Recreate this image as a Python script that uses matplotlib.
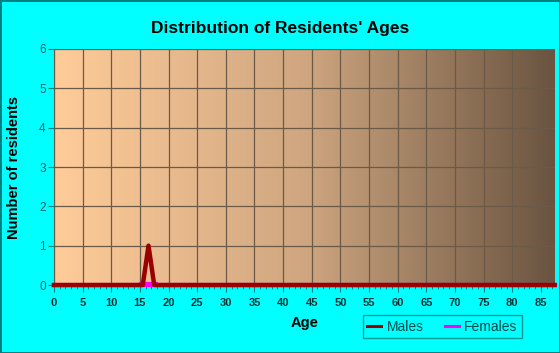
import numpy as np
import matplotlib
matplotlib.use("Agg")
import matplotlib.pyplot as plt
from matplotlib.colors import LinearSegmentedColormap
from matplotlib.ticker import MultipleLocator

plt.rcParams["font.family"] = ["Liberation Sans", "DejaVu Sans"]

TITLE = "Distribution of Residents' Ages"
X_LABEL = "Age"
Y_LABEL = "Number of residents"

ages = [0, 15.5, 16.5, 17.5, 87.4]
males = [0, 0, 1, 0, 0]
female_ages = [0, 87.4]
females = [0, 0]

X_TICKS = list(range(0, 90, 5))
Y_TICKS = list(range(0, 7))

BG_COLOR = "#00FFFF"
EDGE_COLOR = "#008080"
MALE_COLOR = "#990000"
FEMALE_COLOR = "#FF00FF"
GRID_COLOR = "#6b5a48"

fig = plt.figure(figsize=(5.6, 3.53), dpi=100)
fig.patch.set_facecolor(BG_COLOR)
fig.patch.set_edgecolor(EDGE_COLOR)
fig.patch.set_linewidth(2)

ax = fig.add_axes([0.0964, 0.1926, 0.894, 0.6686])
xmax = 87.4
ax.set_xlim(0, xmax)
ax.set_ylim(0, 6)

# horizontal gradient background
cmap = LinearSegmentedColormap.from_list("bg", ["#FFCC99", "#CFA680", "#6A5440"])
grad = np.linspace(0, 1, 256).reshape(1, -1)
ax.imshow(grad, cmap=cmap, extent=[0, xmax, 0, 6], aspect="auto", zorder=0)

ax.set_xticks(X_TICKS)
ax.xaxis.set_minor_locator(MultipleLocator(1))
ax.set_yticks(Y_TICKS)
ax.grid(True, which="major", color=GRID_COLOR, linewidth=0.9, zorder=1)
ax.set_axisbelow(False)

ax.plot(female_ages, females, color=FEMALE_COLOR, linewidth=3, label="Females",
        zorder=3, clip_on=False)
ax.plot(ages, males, color=MALE_COLOR, linewidth=3.2, label="Males", zorder=4,
        clip_on=False)
# small magenta bit showing under the male peak
ax.plot([15.2, 17.8], [0.02, 0.02], color=FEMALE_COLOR, linewidth=3, zorder=3.5)

for side in ["top", "right"]:
    ax.spines[side].set_visible(False)
ax.spines["left"].set_color(EDGE_COLOR)
ax.spines["bottom"].set_color(EDGE_COLOR)

ax.tick_params(axis="x", which="major", length=5, color=EDGE_COLOR, pad=4,
               labelsize=8, labelcolor="#003333")
ax.tick_params(axis="x", which="minor", length=3, color=EDGE_COLOR)
ax.tick_params(axis="y", length=4, color=EDGE_COLOR, labelsize=8.5,
               labelcolor="#006060", pad=2)
for lbl in ax.get_xticklabels():
    lbl.set_fontweight("bold")

ax.set_xlabel(X_LABEL, fontsize=10.5, fontweight="bold", labelpad=6)
ax.set_ylabel(Y_LABEL, fontsize=10.5, fontweight="bold")
ax.yaxis.set_label_coords(-0.066, 0.5)

fig.text(0.5, 0.918, TITLE, ha="center", va="center", fontsize=12.5,
         fontweight="bold")

handles, labels = ax.get_legend_handles_labels()
order = [1, 0]
leg = fig.legend([handles[i] for i in order], [labels[i] for i in order],
                 loc="center", bbox_to_anchor=(0.79, 0.075), ncols=2,
                 frameon=True, fancybox=False, fontsize=10,
                 handlelength=1.0, handletextpad=0.4, columnspacing=1.5,
                 borderpad=0.3)
leg.get_frame().set_facecolor(BG_COLOR)
leg.get_frame().set_edgecolor(EDGE_COLOR)
for line in leg.get_lines():
    line.set_linewidth(2.2)
for t in leg.get_texts():
    t.set_color("#004848")

fig.savefig("out.png", dpi=100, facecolor=fig.get_facecolor(),
            edgecolor=fig.get_edgecolor())
